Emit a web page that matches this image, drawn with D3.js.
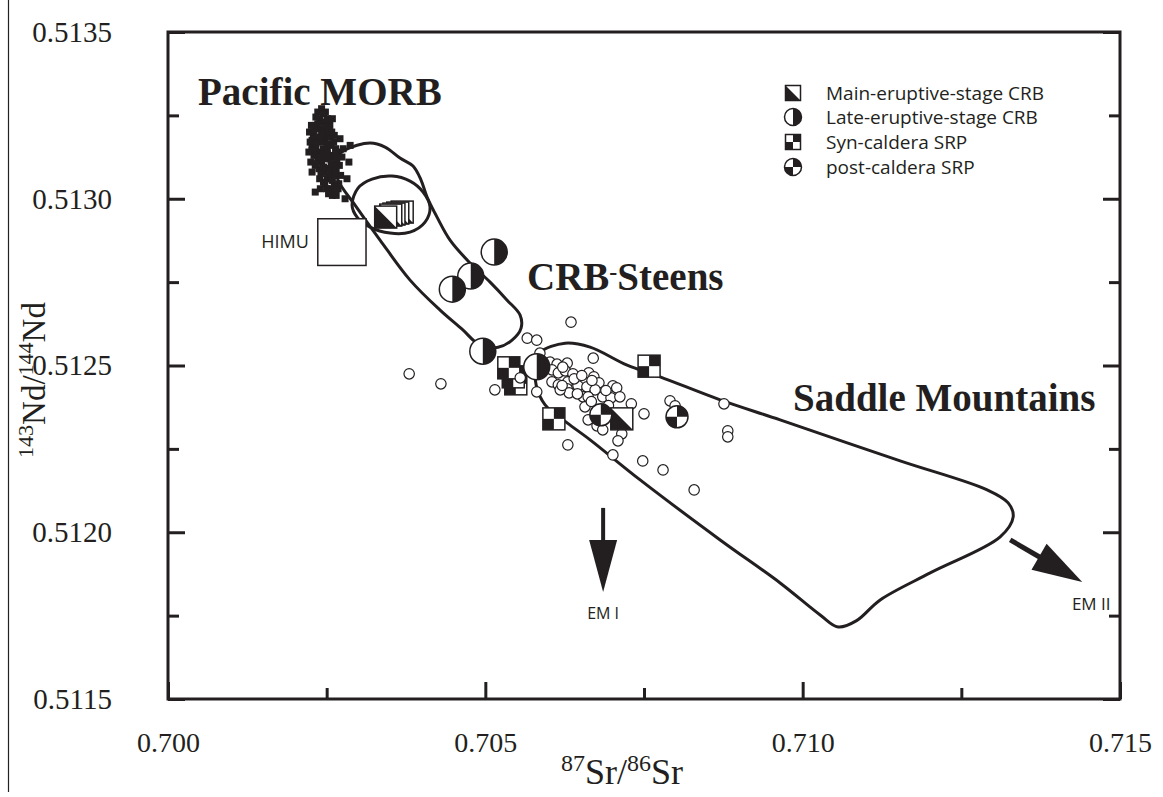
<!DOCTYPE html>
<html>
<head>
<meta charset="utf-8">
<script src="https://cdn.jsdelivr.net/npm/d3@7"></script>
<style>
  body { margin: 0; background: #fff; }
  svg { display: block; }
</style>
</head>
<body>
<svg id="chart" width="1163" height="797"></svg>
<script>
// Axis ticks
const xTicksMajor = [0.700, 0.705, 0.710, 0.715];
const xTicksMinor = [0.7025, 0.7075, 0.7125];
const yTicksMajor = [0.5115, 0.5120, 0.5125, 0.5130, 0.5135];
const yTicksMinor = [0.51175, 0.51225, 0.51275, 0.51325];

// Pacific MORB samples [87Sr/86Sr, 143Nd/144Nd]
const morb = [
  [0.70236,0.51326],[0.70242,0.51327],[0.70248,0.51326],[0.70239,0.51324],[0.70245,0.51323],[0.70251,0.51324],
  [0.70232,0.51322],[0.70238,0.51321],[0.70244,0.51320],[0.70250,0.51321],[0.70255,0.51322],
  [0.70229,0.51319],[0.70235,0.51318],[0.70241,0.51317],[0.70247,0.51318],[0.70253,0.51319],
  [0.70227,0.51316],[0.70233,0.51315],[0.70239,0.51314],[0.70245,0.51315],[0.70251,0.51315],[0.70257,0.51316],
  [0.70230,0.51313],[0.70236,0.51312],[0.70242,0.51311],[0.70248,0.51312],[0.70254,0.51312],[0.70260,0.51313],[0.70268,0.51314],[0.70276,0.51315],
  [0.70232,0.51310],[0.70238,0.51309],[0.70244,0.51308],[0.70250,0.51309],[0.70256,0.51309],[0.70262,0.51310],[0.70270,0.51310],
  [0.70239,0.51306],[0.70245,0.51305],[0.70251,0.51306],[0.70257,0.51306],[0.70263,0.51307],[0.70272,0.51307],
  [0.70250,0.51303],[0.70256,0.51303],[0.70262,0.51304],[0.70268,0.51303],
  [0.70259,0.51301],[0.70265,0.51301],
  [0.70240,0.51303],[0.70232,0.51302],[0.70279,0.51300],[0.70287,0.51316],[0.70285,0.51311],[0.70282,0.51306],[0.70271,0.51318],
  [0.70233,0.513245],[0.70245,0.513255],[0.70251,0.513235],[0.70236,0.513225],[0.70248,0.513215],[0.70230,0.513205],
  [0.70242,0.513195],[0.70254,0.513205],[0.70227,0.513175],[0.70239,0.513185],[0.70251,0.513165],[0.70257,0.513185],
  [0.70233,0.513165],[0.70245,0.513135],[0.70227,0.513145],[0.70239,0.513125],[0.70251,0.513135],[0.70263,0.513125],
  [0.70233,0.513105],[0.70245,0.513095],[0.70257,0.513105],[0.70265,0.513085],[0.70241,0.513075],[0.70253,0.513075],
  [0.70247,0.513045],[0.70259,0.513055],[0.70269,0.513045],[0.70253,0.513015],[0.70263,0.513025],[0.70274,0.513125],
  [0.70223,0.51320],[0.70224,0.51317],[0.70222,0.51314],[0.70225,0.51311],[0.70227,0.51308],[0.70226,0.51322],
  [0.70258,0.51320],[0.70261,0.51317],[0.70264,0.51315],[0.70266,0.51312],[0.70259,0.51324],[0.70262,0.51319]
];

// HIMU end-member box [Sr min, Nd min, Sr max, Nd max]
const himuBox = [0.70236, 0.51280, 0.70312, 0.51294];

// Saddle Mountains basalts (small open circles)
const saddleSamples = [
  [0.70380,0.512475],[0.70430,0.512445],[0.70515,0.512427],[0.70555,0.512463],[0.70566,0.512582],
  [0.70581,0.512576],[0.70581,0.512421],[0.70586,0.512537],[0.70635,0.512630],[0.70602,0.512510],
  [0.70613,0.512504],[0.70629,0.512507],[0.70605,0.512487],[0.70615,0.512478],[0.70626,0.512484],
  [0.70638,0.512475],[0.70605,0.512451],[0.70615,0.512442],[0.70630,0.512451],[0.70629,0.512430],
  [0.70632,0.512418],[0.70618,0.512427],[0.70670,0.512522],[0.70663,0.512478],[0.70671,0.512466],
  [0.70679,0.512448],[0.70646,0.512439],[0.70660,0.512436],[0.70673,0.512427],[0.70654,0.512406],
  [0.70662,0.512406],[0.70685,0.512406],[0.70701,0.512439],[0.70707,0.512433],[0.70698,0.512403],
  [0.70712,0.512406],[0.70730,0.512385],[0.70657,0.512376],[0.70662,0.512337],[0.70676,0.512319],
  [0.70685,0.512307],[0.70715,0.512295],[0.70709,0.512274],[0.70750,0.512355],[0.70791,0.512394],
  [0.70799,0.512379],[0.70630,0.512262],[0.70701,0.512232],[0.70748,0.512214],[0.70780,0.512187],
  [0.70829,0.512127],[0.70876,0.512385],[0.70882,0.512304],[0.70882,0.512286],
  [0.70622,0.512495],[0.70640,0.512460],[0.70652,0.512470],[0.70668,0.512455],[0.70690,0.512425],
  [0.70667,0.512392],[0.70694,0.512380],[0.70621,0.512440],[0.70645,0.512415]
];

// Steens / CRB stage samples
const mainEruptive = [
  [0.70369,0.512960],[0.70362,0.512957],[0.70356,0.512954],[0.70351,0.512951],[0.70343,0.512945],
  [0.70715,0.512340]
];
const lateEruptive = [
  [0.70514,0.512840],[0.70477,0.512768],[0.70448,0.512729],[0.70496,0.512543],[0.70581,0.512496]
];
const synCaldera = [
  [0.70758,0.512498],[0.70608,0.512340],[0.70548,0.512445],[0.70544,0.512466],[0.70537,0.512493]
];
const postCaldera = [
  [0.70682,0.512352],[0.70802,0.512346]
];

// Field outlines
const crbEnvelope = [
  [0.702789,0.513146],[0.703183,0.513167],[0.703420,0.513155],[0.703656,0.513122],[0.703861,0.513098],
  [0.703987,0.513056],[0.704082,0.513005],[0.704239,0.512945],[0.704444,0.512876],[0.704760,0.512807],
  [0.705075,0.512750],[0.705343,0.512696],[0.705548,0.512651],[0.705563,0.512612],[0.705421,0.512576],
  [0.705201,0.512555],[0.704917,0.512561],[0.704633,0.512609],[0.704287,0.512666],[0.703814,0.512756],
  [0.703341,0.512876],[0.702947,0.512981],[0.702679,0.513056],[0.702632,0.513116]
];
const crbCore = [
  [0.702900,0.512981],[0.702994,0.513032],[0.703215,0.513059],[0.703530,0.513068],[0.703814,0.513053],
  [0.704019,0.513020],[0.704129,0.512975],[0.704050,0.512930],[0.703814,0.512900],[0.703499,0.512897],
  [0.703183,0.512915],[0.702979,0.512945]
];
const saddleEnvelope = [
  [0.705863,0.512540],[0.706257,0.512567],[0.706651,0.512555],[0.707234,0.512501],[0.707754,0.512466],
  [0.708700,0.512397],[0.709645,0.512337],[0.711536,0.512214],[0.712907,0.512127],[0.713238,0.512088],
  [0.713317,0.512046],[0.713112,0.511986],[0.712009,0.511878],[0.711221,0.511797],[0.710850,0.511735],
  [0.710559,0.511716],[0.710276,0.511752],[0.709645,0.511848],[0.708700,0.511977],[0.707439,0.512157],
  [0.706651,0.512277],[0.706289,0.512328],[0.705942,0.512382],[0.705800,0.512442],[0.705800,0.512511]
];

// Mantle end-member trend arrows [from, to]
const emOneArrow = [[0.706856,0.512073],[0.706856,0.511821]];
const emTwoArrow = [[0.713270,0.511977],[0.714405,0.511851]];

const legendLabels = ["Main-eruptive-stage CRB", "Late-eruptive-stage CRB", "Syn-caldera SRP", "post-caldera SRP"];

(function draw() {
  const svg = d3.select("#chart");
  const plotLeft = 168, plotRight = 1120, plotTop = 32, plotBottom = 699;

  const x = d3.scaleLinear().domain([0.700, 0.715]).range([plotLeft, plotRight]);
  const y = d3.scaleLinear().domain([0.5115, 0.5135]).range([plotBottom, plotTop]);

  const serif = "'Liberation Serif', 'Times New Roman', serif";
  const sans = "'Open Sans', 'Noto Sans', sans-serif";
  const ink = "#231f20";

  // thin rule at far left
  svg.append("line").attr("x1", 8.5).attr("x2", 8.5).attr("y1", 0).attr("y2", 792)
    .attr("stroke", "#222").attr("stroke-width", 1.2);

  // ---- axes ----
  function styleAxis(g) {
    g.select(".domain").remove();
    g.selectAll(".tick line").attr("stroke", ink).attr("stroke-width", 3);
  }
  const yLabelFmt = d3.format(".4f");
  const xLabelFmt = d3.format(".3f");

  svg.append("g").attr("transform", `translate(${plotLeft},0)`)
    .call(d3.axisLeft(y).tickValues(yTicksMajor).tickSize(-17).tickPadding(56).tickFormat(yLabelFmt))
    .call(styleAxis)
    .call(g => g.selectAll(".tick text").attr("font-family", serif).attr("font-size", 29).attr("fill", ink));
  svg.append("g").attr("transform", `translate(${plotLeft},0)`)
    .call(d3.axisLeft(y).tickValues(yTicksMinor).tickSize(-11).tickFormat(""))
    .call(styleAxis);
  svg.append("g").attr("transform", `translate(${plotRight},0)`)
    .call(d3.axisRight(y).tickValues(yTicksMajor).tickSize(-17).tickFormat(""))
    .call(styleAxis);
  svg.append("g").attr("transform", `translate(${plotRight},0)`)
    .call(d3.axisRight(y).tickValues(yTicksMinor).tickSize(-11).tickFormat(""))
    .call(styleAxis);
  svg.append("g").attr("transform", `translate(0,${plotBottom})`)
    .call(d3.axisBottom(x).tickValues(xTicksMajor).tickSize(-17).tickPadding(33).tickFormat(xLabelFmt))
    .call(styleAxis)
    .call(g => g.selectAll(".tick text").attr("font-family", serif).attr("font-size", 28).attr("fill", ink));
  svg.append("g").attr("transform", `translate(0,${plotBottom})`)
    .call(d3.axisBottom(x).tickValues(xTicksMinor).tickSize(-11).tickFormat(""))
    .call(styleAxis);

  // frame
  svg.append("rect").attr("x", plotLeft).attr("y", plotTop)
    .attr("width", plotRight - plotLeft).attr("height", plotBottom - plotTop)
    .attr("fill", "none").attr("stroke", ink).attr("stroke-width", 3);

  // axis titles
  const xt = svg.append("text").attr("x", 622).attr("y", 784).attr("text-anchor", "middle")
    .attr("font-family", serif).attr("font-size", 36).attr("fill", ink);
  xt.append("tspan").attr("font-size", 24).attr("dy", -13).text("87");
  xt.append("tspan").attr("dy", 13).text("Sr/");
  xt.append("tspan").attr("font-size", 24).attr("dy", -13).text("86");
  xt.append("tspan").attr("dy", 13).text("Sr");

  const yt = svg.append("text").attr("transform", "translate(45,380) rotate(-90)").attr("text-anchor", "middle")
    .attr("font-family", serif).attr("font-size", 33).attr("fill", ink);
  yt.append("tspan").attr("font-size", 22).attr("dy", -12).text("143");
  yt.append("tspan").attr("dy", 12).text("Nd/");
  yt.append("tspan").attr("font-size", 22).attr("dy", -12).text("144");
  yt.append("tspan").attr("dy", 12).text("Nd");

  // ---- field outlines ----
  const outline = d3.line().x(d => x(d[0])).y(d => y(d[1])).curve(d3.curveCatmullRomClosed.alpha(0.5));
  [crbEnvelope, crbCore, saddleEnvelope].forEach(poly => {
    svg.append("path").attr("d", outline(poly)).attr("fill", "none")
      .attr("stroke", ink).attr("stroke-width", 3).attr("stroke-linejoin", "round");
  });

  // ---- MORB ----
  svg.append("g").selectAll("rect").data(morb).join("rect")
    .attr("x", d => x(d[0]) - 3.5).attr("y", d => y(d[1]) - 3.5)
    .attr("width", 7).attr("height", 7).attr("fill", ink);

  // HIMU box
  svg.append("rect")
    .attr("x", x(himuBox[0])).attr("y", y(himuBox[3]))
    .attr("width", x(himuBox[2]) - x(himuBox[0])).attr("height", y(himuBox[1]) - y(himuBox[3]))
    .attr("fill", "#fff").attr("stroke", ink).attr("stroke-width", 1.5);
  svg.append("text").attr("x", x(himuBox[0]) - 9).attr("y", (y(himuBox[1]) + y(himuBox[3])) / 2)
    .attr("dy", "0.35em").attr("text-anchor", "end").attr("font-family", sans).attr("font-size", 18)
    .attr("fill", ink).text("HIMU");

  // ---- marker glyphs ----
  function mainGlyph(g, cx, cy, s) {
    const h = s / 2;
    g.append("rect").attr("x", cx - h).attr("y", cy - h).attr("width", s).attr("height", s)
      .attr("fill", "#fff").attr("stroke", ink).attr("stroke-width", 1.5);
    g.append("path").attr("d", `M${cx - h},${cy - h}L${cx - h},${cy + h}L${cx + h},${cy + h}Z`).attr("fill", ink);
  }
  function lateGlyph(g, cx, cy, r) {
    g.append("circle").attr("cx", cx).attr("cy", cy).attr("r", r)
      .attr("fill", "#fff").attr("stroke", ink).attr("stroke-width", 1.5);
    g.append("path").attr("d", `M${cx},${cy - r}A${r},${r} 0 0 1 ${cx},${cy + r}Z`).attr("fill", ink);
  }
  function synGlyph(g, cx, cy, s) {
    const h = s / 2;
    g.append("rect").attr("x", cx - h).attr("y", cy - h).attr("width", s).attr("height", s)
      .attr("fill", "#fff").attr("stroke", ink).attr("stroke-width", 1.5);
    g.append("rect").attr("x", cx).attr("y", cy - h).attr("width", h).attr("height", h).attr("fill", ink);
    g.append("rect").attr("x", cx - h).attr("y", cy).attr("width", h).attr("height", h).attr("fill", ink);
  }
  function postGlyph(g, cx, cy, r) {
    g.append("circle").attr("cx", cx).attr("cy", cy).attr("r", r)
      .attr("fill", "#fff").attr("stroke", ink).attr("stroke-width", 1.5);
    g.append("path").attr("d", `M${cx},${cy}L${cx},${cy - r}A${r},${r} 0 0 1 ${cx + r},${cy}Z`).attr("fill", ink);
    g.append("path").attr("d", `M${cx},${cy}L${cx},${cy + r}A${r},${r} 0 0 1 ${cx - r},${cy}Z`).attr("fill", ink);
  }

  const marks = svg.append("g");
  synCaldera.forEach(d => synGlyph(marks.append("g"), x(d[0]), y(d[1]), 22));
  marks.selectAll("circle.sample").data(saddleSamples).join("circle").attr("class", "sample")
    .attr("cx", d => x(d[0])).attr("cy", d => y(d[1])).attr("r", 5.2)
    .attr("fill", "#fff").attr("stroke", ink).attr("stroke-width", 1.2);
  mainEruptive.forEach(d => mainGlyph(marks.append("g"), x(d[0]), y(d[1]), 22));
  lateEruptive.forEach(d => lateGlyph(marks.append("g"), x(d[0]), y(d[1]), 13));
  postCaldera.forEach(d => postGlyph(marks.append("g"), x(d[0]), y(d[1]), 11));

  // ---- end-member arrows ----
  function arrow(from, to, shaftW, headLen, headW) {
    const x0 = x(from[0]), y0 = y(from[1]), x1 = x(to[0]), y1 = y(to[1]);
    const L = Math.hypot(x1 - x0, y1 - y0);
    const ux = (x1 - x0) / L, uy = (y1 - y0) / L;
    const bx = x1 - ux * headLen, by = y1 - uy * headLen;
    svg.append("line").attr("x1", x0).attr("y1", y0).attr("x2", bx + ux * 2).attr("y2", by + uy * 2)
      .attr("stroke", ink).attr("stroke-width", shaftW);
    const px = -uy * headW / 2, py = ux * headW / 2;
    svg.append("path").attr("d", `M${x1},${y1}L${bx + px},${by + py}L${bx - px},${by - py}Z`).attr("fill", ink);
  }
  arrow(emOneArrow[0], emOneArrow[1], 4, 52, 28);
  arrow(emTwoArrow[0], emTwoArrow[1], 5, 50, 30);

  svg.append("text").attr("x", x(emOneArrow[1][0])).attr("y", y(emOneArrow[1][1]) + 21).attr("dy", "0.35em")
    .attr("text-anchor", "middle").attr("font-family", sans).attr("font-size", 16).attr("fill", ink).text("EM I");
  svg.append("text").attr("x", x(emTwoArrow[1][0]) + 9).attr("y", y(emTwoArrow[1][1]) + 22).attr("dy", "0.35em")
    .attr("text-anchor", "middle").attr("font-family", sans).attr("font-size", 17).attr("fill", ink).text("EM II");

  // ---- field names ----
  svg.append("text").attr("x", 198).attr("y", 105).attr("font-family", serif).attr("font-weight", "bold")
    .attr("font-size", 39).attr("fill", ink).text("Pacific MORB");
  const crbLabel = svg.append("text").attr("x", 527).attr("y", 290).attr("font-family", serif)
    .attr("font-weight", "bold").attr("font-size", 39).attr("fill", ink);
  crbLabel.append("tspan").text("CRB");
  crbLabel.append("tspan").attr("font-size", 24).attr("dy", -10).text("-");
  crbLabel.append("tspan").attr("dy", 10).text("Steens");
  svg.append("text").attr("x", 793).attr("y", 411).attr("font-family", serif).attr("font-weight", "bold")
    .attr("font-size", 39).attr("fill", ink).text("Saddle Mountains");

  // ---- legend ----
  const legend = svg.append("g");
  const legendY = [93, 117, 142, 167];
  mainGlyph(legend.append("g"), 793, legendY[0], 15);
  lateGlyph(legend.append("g"), 793, legendY[1], 8.5);
  synGlyph(legend.append("g"), 793, legendY[2], 15);
  postGlyph(legend.append("g"), 793, legendY[3], 8.5);
  legend.selectAll("text").data(legendLabels).join("text")
    .attr("x", 826).attr("y", (d, i) => legendY[i]).attr("dy", "0.35em")
    .attr("font-family", sans).attr("font-size", 19).attr("fill", ink).text(d => d);
})();
</script>
</body>
</html>
